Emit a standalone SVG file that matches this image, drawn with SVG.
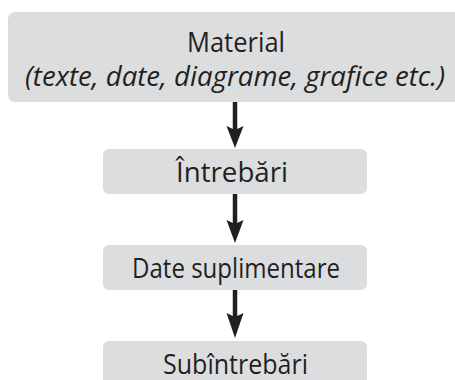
<svg xmlns="http://www.w3.org/2000/svg" width="455" height="380" viewBox="0 0 455 380">
  <defs>
    <style>
      .box { fill: #dcdddf; }
      .lbl { font-family: "Open Sans", "Noto Sans", "Liberation Sans", sans-serif; font-size: 27px; fill: #231f20; text-anchor: middle; }
      .it { font-style: italic; }
      .shaft { stroke: #231f20; stroke-width: 4.5; fill: none; }
      .head { fill: #231f20; }
    </style>
  </defs>

  <rect width="455" height="380" fill="#ffffff"/>

  <!-- nodes -->
  <g id="material">
    <rect class="box" x="8" y="12" width="460" height="90" rx="7"/>
    <text class="lbl" x="236" y="52" textLength="98" lengthAdjust="spacingAndGlyphs">Material</text>
    <text class="lbl it" x="235" y="86" textLength="420" lengthAdjust="spacingAndGlyphs">(texte, date, diagrame, grafice etc.)</text>
  </g>

  <g id="intrebari">
    <rect class="box" x="103" y="149" width="264" height="45" rx="6"/>
    <text class="lbl" x="232" y="182" textLength="112" lengthAdjust="spacingAndGlyphs">Întrebări</text>
  </g>

  <g id="date-suplimentare">
    <rect class="box" x="103" y="245" width="264" height="45" rx="6"/>
    <text class="lbl" x="236" y="278" textLength="208" lengthAdjust="spacingAndGlyphs">Date suplimentare</text>
  </g>

  <g id="subintrebari">
    <rect class="box" x="103" y="341" width="264" height="50" rx="6"/>
    <text class="lbl" x="235.5" y="374" textLength="145" lengthAdjust="spacingAndGlyphs">Subîntrebări</text>
  </g>

  <!-- connectors -->
  <g id="connectors">
    <line class="shaft" x1="235" y1="102" x2="235" y2="130"/>
    <path class="head" d="M226.5 126 L235 130 L243.5 126 L235 148 Z"/>

    <line class="shaft" x1="235" y1="194" x2="235" y2="224"/>
    <path class="head" d="M226.5 220 L235 224 L243.5 220 L235 243 Z"/>

    <line class="shaft" x1="235" y1="290" x2="235" y2="318"/>
    <path class="head" d="M226.5 313 L235 317 L243.5 313 L235 338 Z"/>
  </g>
</svg>
